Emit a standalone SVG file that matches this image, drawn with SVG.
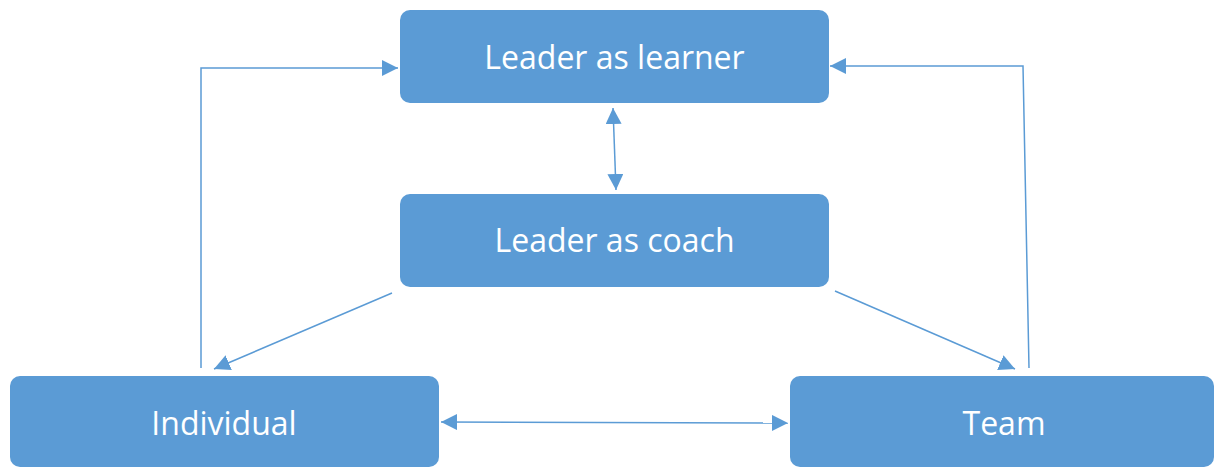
<svg xmlns="http://www.w3.org/2000/svg" width="1214" height="468" viewBox="0 0 1214 468">
  <style>
    .box { fill: #5B9BD5; }
    .label { fill: #ffffff; font-family: "Open Sans", "Liberation Sans", sans-serif; font-size: 32px; text-anchor: middle; }
    .conn { fill: none; stroke: #5B9BD5; stroke-width: 1.5; }
  </style>
  <defs>
    <marker id="arrow" markerUnits="userSpaceOnUse" markerWidth="16" markerHeight="16" viewBox="0 0 16 16" refX="16" refY="8" orient="auto-start-reverse">
      <path d="M0,0 L16,8 L0,16 Z" fill="#5B9BD5"/>
    </marker>
  </defs>
  <rect width="1214" height="468" fill="#ffffff"/>

  <g id="connectors">
    <!-- Individual up to Leader as learner -->
    <polyline class="conn" points="201,368 201,68 398,68" marker-end="url(#arrow)"/>
    <!-- Team up to Leader as learner -->
    <polyline class="conn" points="1029,368 1023,66 830,66" marker-end="url(#arrow)"/>
    <!-- learner <-> coach -->
    <line class="conn" x1="613" y1="108" x2="616" y2="190" marker-start="url(#arrow)" marker-end="url(#arrow)"/>
    <!-- coach to Individual -->
    <line class="conn" x1="392" y1="293" x2="214" y2="369" marker-end="url(#arrow)"/>
    <!-- coach to Team -->
    <line class="conn" x1="835" y1="291" x2="1015" y2="369" marker-end="url(#arrow)"/>
    <!-- Individual <-> Team -->
    <line class="conn" x1="441" y1="422" x2="788" y2="423" marker-start="url(#arrow)" marker-end="url(#arrow)"/>
  </g>

  <g id="learner">
    <rect class="box" x="400" y="10" width="429" height="93" rx="10"/>
    <text class="label" x="614.5" y="69">Leader as learner</text>
  </g>
  <g id="coach">
    <rect class="box" x="400" y="194" width="429" height="93" rx="10"/>
    <text class="label" x="614.5" y="252">Leader as coach</text>
  </g>
  <g id="individual">
    <rect class="box" x="10" y="376" width="429" height="91" rx="10"/>
    <text class="label" x="224" y="435">Individual</text>
  </g>
  <g id="team">
    <rect class="box" x="790" y="376" width="424" height="91" rx="10"/>
    <text class="label" x="1004" y="435">Team</text>
  </g>
</svg>
